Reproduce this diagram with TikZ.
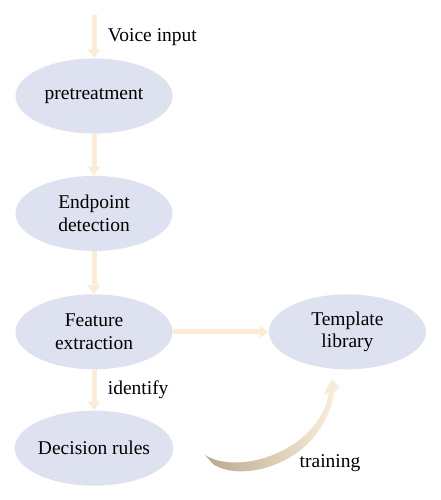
\documentclass[tikz,border=0pt]{standalone}
\usepackage{fontspec}
\setmainfont{Liberation Serif}
\usetikzlibrary{arrows.meta,positioning,shapes.geometric}
\definecolor{ovalfill}{RGB}{221,225,240}
\definecolor{flowarrow}{RGB}{252,236,214}
\definecolor{traindark}{RGB}{186,168,140}
\definecolor{trainlight}{RGB}{252,240,222}

\begin{document}
\begin{tikzpicture}[x=1pt,y=-1pt,>={Triangle[width=12pt,length=9pt]},
  oval/.style={ellipse,fill=ovalfill,minimum width=157pt,minimum height=75pt,
    inner sep=0pt,align=center,font=\fontsize{19.5}{22.5}\selectfont},
  flow/.style={->,draw=flowarrow,line width=5pt},
  lbl/.style={font=\fontsize{19.5}{22.5}\selectfont}]
  \useasboundingbox (0,0) rectangle (441,500);
  \coordinate (in) at (94,15);
  \node[oval] (pre) at (94,96) {pretreatment};
  \node[oval] (end) [below=42pt of pre] {Endpoint\\detection};
  \node[oval] (feat) [below=43pt of end] {Feature\\extraction};
  \node[oval] (dec) [below=41pt of feat] {Decision rules};
  \node[oval] (tpl) [right=96pt of feat] {Template\\library};
\draw[flow] (in) -- node[lbl,right=8pt] {Voice input} (pre);
\draw[flow] (pre) -- (end);
\draw[flow] (end) -- (feat);
\draw[flow] (feat) -- node[lbl,right=8pt] {identify} (dec);
\draw[flow] (feat) -- (tpl);
  % training arrow
  \shade[left color=traindark,right color=trainlight]
    (205,455) .. controls (238,476) and (318,452) .. (329,393)
    -- (324,394) -- (332,379) -- (340,388) -- (334,393)
    .. controls (322,464) and (242,484) .. (213,464) -- cycle;
  \node[lbl] (train) at (330,463) {training};
\end{tikzpicture}
\end{document}
